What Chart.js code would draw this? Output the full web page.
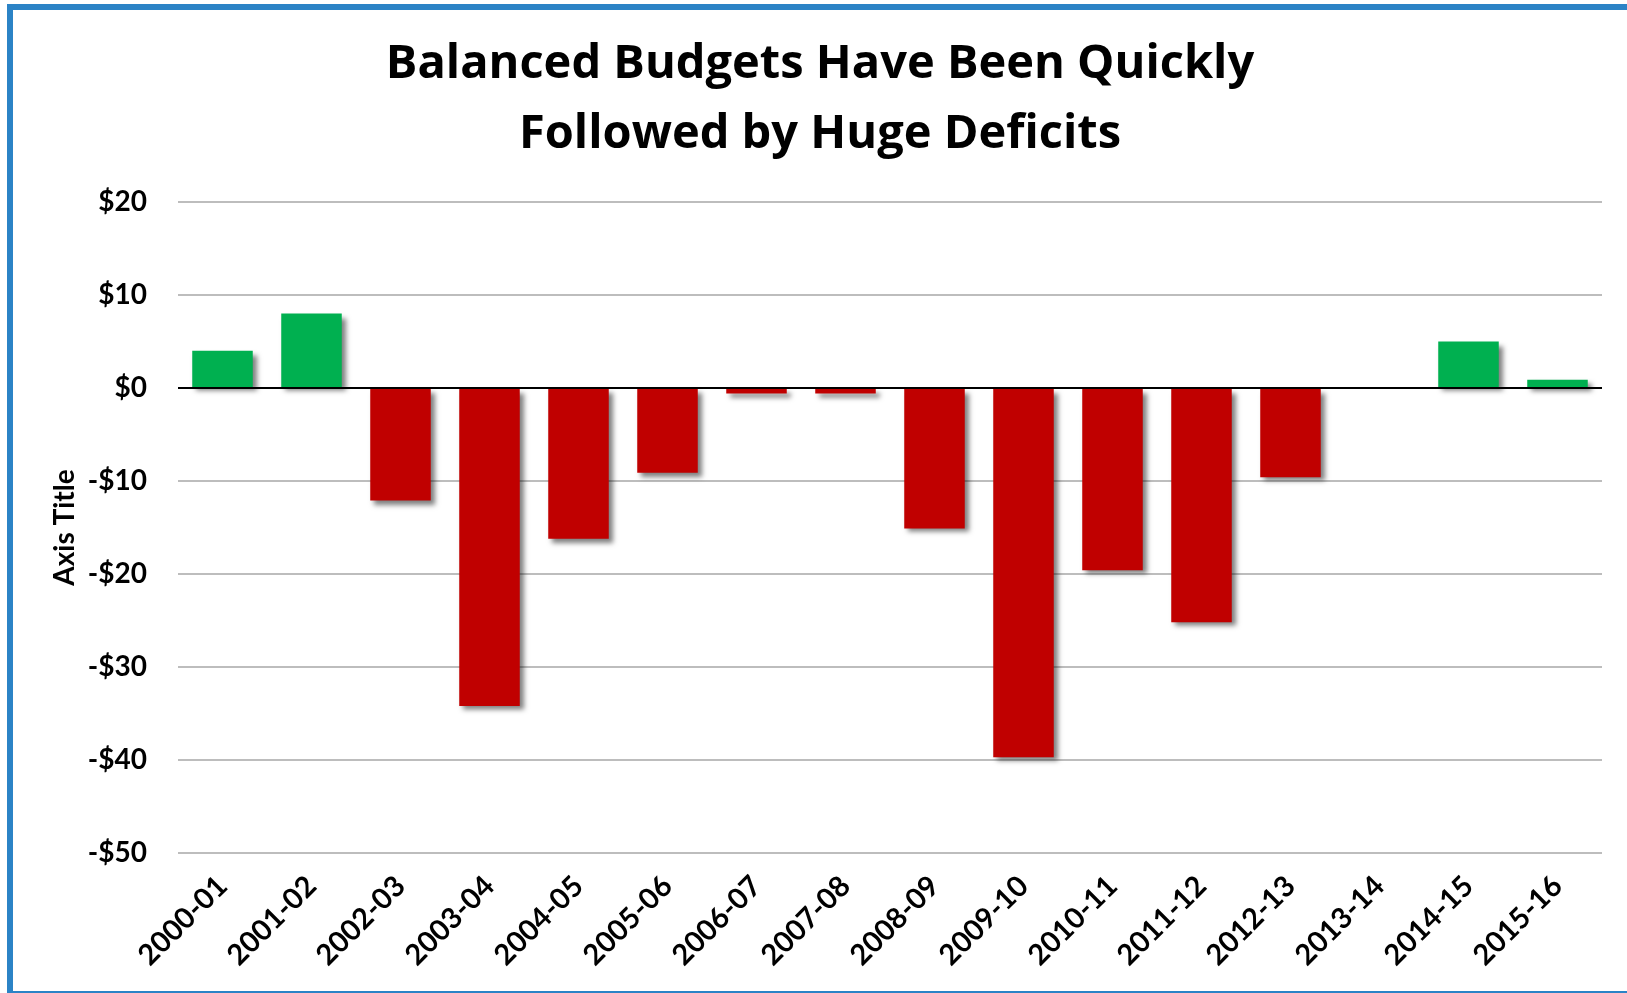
<!DOCTYPE html>
<html>
<head>
<meta charset="utf-8">
<script src="https://cdn.jsdelivr.net/npm/chart.js@4/dist/chart.umd.min.js"></script>
<style>
  html, body { margin: 0; padding: 0; background: #ffffff; overflow: hidden; width: 1627px; height: 993px; }
  #wrap { position: absolute; left: 0; top: 0; width: 1627px; height: 993px; }
  #frame { position: absolute; left: 7px; top: 4px; width: 1700px; height: 993px; box-sizing: border-box;
           border: 6px solid #2b83c6; border-right: none; pointer-events: none; }
</style>
</head>
<body>
<div id="wrap"><canvas id="c" width="1627" height="993"></canvas></div>
<div id="frame"></div>
<script>
const categories = ['2000-01','2001-02','2002-03','2003-04','2004-05','2005-06','2006-07','2007-08',
                    '2008-09','2009-10','2010-11','2011-12','2012-13','2013-14','2014-15','2015-16'];
const balances = [4.0, 8.0, -12.1, -34.2, -16.2, -9.1, -0.6, -0.6,
                  -15.1, -39.7, -19.6, -25.2, -9.6, 0, 5.0, 0.9];
const yTickValues = [20, 10, 0, -10, -20, -30, -40, -50];
const yTickLabels = ['$20', '$10', '$0', '-$10', '-$20', '-$30', '-$40', '-$50'];
const titleLines = ['Balanced Budgets Have Been Quickly', 'Followed by Huge Deficits'];
const yAxisTitle = 'Axis Title';

const GREEN = '#00b050';
const RED = '#c00000';

const shadowPlugin = {
  id: 'barShadowAndZero',
  beforeDatasetsDraw(chart) {
    const c = chart.ctx;
    c.save();
    c.shadowColor = 'rgba(0,0,0,0.5)';
    c.shadowBlur = 5;
    c.shadowOffsetX = 4;
    c.shadowOffsetY = 4;
  },
  afterDatasetsDraw(chart) {
    const c = chart.ctx;
    c.restore();
    const y = Math.round(chart.scales.y.getPixelForValue(0));
    c.save();
    c.strokeStyle = '#000000';
    c.lineWidth = 2;
    c.beginPath();
    c.moveTo(chart.chartArea.left, y);
    c.lineTo(chart.chartArea.right, y);
    c.stroke();
    c.restore();
  }
};

Chart.defaults.font.family = 'Lato, "Open Sans", sans-serif';
Chart.defaults.color = '#000000';

new Chart(document.getElementById('c'), {
  type: 'bar',
  data: {
    labels: categories,
    datasets: [{
      data: balances,
      backgroundColor: balances.map(v => v >= 0 ? GREEN : RED),
      borderWidth: 0,
      categoryPercentage: 1.0,
      barPercentage: 0.68
    }]
  },
  options: {
    responsive: false,
    animation: false,
    layout: { padding: { top: 29, left: 38, right: 25, bottom: 0 } },
    plugins: {
      legend: { display: false },
      tooltip: { enabled: false },
      title: {
        display: true,
        text: titleLines,
        color: '#000000',
        font: { family: '"Open Sans", Lato, sans-serif', size: 47, weight: 'bold', lineHeight: 1.5 },
        padding: { top: 0, bottom: 32 }
      }
    },
    scales: {
      x: {
        grid: { display: false },
        border: { display: false },
        ticks: {
          autoSkip: false,
          minRotation: 45,
          maxRotation: 45,
          font: { size: 29, weight: 'bold' },
          color: '#000000',
          padding: 8
        },
        afterFit(scale) { scale.height = 140; }
      },
      y: {
        min: -50,
        max: 20,
        ticks: {
          stepSize: 10,
          padding: 31,
          font: { size: 28, weight: 'bold' },
          color: '#000000',
          callback: (v) => {
            const i = yTickValues.indexOf(v);
            return i >= 0 ? yTickLabels[i] : '';
          }
        },
        grid: {
          drawTicks: false,
          color: '#bdbdbd',
          lineWidth: 2
        },
        border: { display: false },
        title: {
          display: true,
          text: yAxisTitle,
          color: '#000000',
          font: { size: 28, weight: 'bold' },
          padding: { top: 10, bottom: 0 }
        },
        afterFit(scale) { scale.width = 140; }
      }
    }
  },
  plugins: [shadowPlugin]
});
</script>
</body>
</html>
